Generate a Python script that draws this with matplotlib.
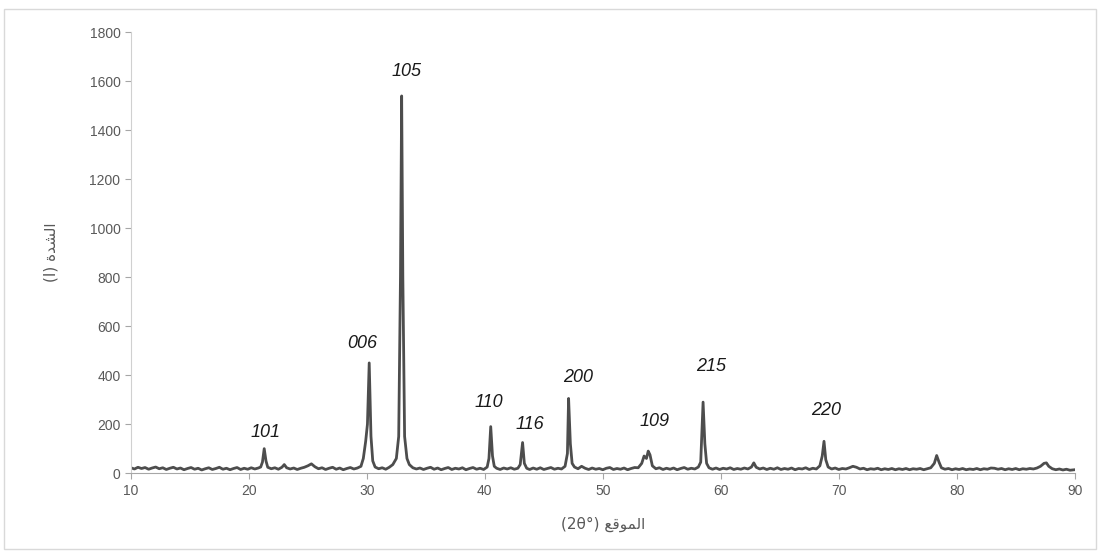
import matplotlib.pyplot as plt
from matplotlib.patches import Rectangle

# XRD pattern
two_theta = [
    10.0, 10.3, 10.6, 10.9, 11.2, 11.5, 11.8, 12.1, 12.4, 12.7, 13.0, 13.3, 13.6, 13.9,
    14.2, 14.5, 14.8, 15.1, 15.4, 15.7, 16.0, 16.3, 16.6, 16.9, 17.2, 17.5, 17.8, 18.1,
    18.4, 18.7, 19.0, 19.3, 19.6, 19.9, 20.2, 20.5, 20.8, 21.0, 21.15, 21.3, 21.45, 21.6,
    21.9, 22.2, 22.5, 22.8, 23.0, 23.2, 23.5, 23.8, 24.1, 24.4, 24.7, 25.0, 25.3, 25.6,
    25.9, 26.2, 26.5, 26.8, 27.1, 27.4, 27.7, 28.0, 28.3, 28.6, 28.9, 29.2, 29.5, 29.7,
    29.9, 30.05, 30.2, 30.35, 30.5, 30.7, 31.0, 31.3, 31.6, 31.9, 32.2, 32.5, 32.7, 32.85,
    32.95, 33.05, 33.2, 33.4, 33.6, 33.9, 34.2, 34.5, 34.8, 35.1, 35.4, 35.7, 36.0, 36.3,
    36.6, 36.9, 37.2, 37.5, 37.8, 38.1, 38.4, 38.7, 39.0, 39.3, 39.6, 39.9, 40.2, 40.35,
    40.5, 40.65, 40.8, 41.0, 41.3, 41.6, 41.9, 42.2, 42.5, 42.8, 43.0, 43.2, 43.35, 43.55,
    43.8, 44.1, 44.4, 44.7, 45.0, 45.3, 45.6, 45.9, 46.2, 46.5, 46.8, 47.0, 47.1, 47.25,
    47.4, 47.6, 47.9, 48.2, 48.5, 48.8, 49.1, 49.4, 49.7, 50.0, 50.3, 50.6, 50.9, 51.2,
    51.5, 51.8, 52.1, 52.4, 52.7, 53.0, 53.3, 53.5, 53.7, 53.85, 54.0, 54.2, 54.5, 54.8,
    55.1, 55.4, 55.7, 56.0, 56.3, 56.6, 56.9, 57.2, 57.5, 57.8, 58.1, 58.3, 58.5, 58.65,
    58.8, 59.0, 59.3, 59.6, 59.9, 60.2, 60.5, 60.8, 61.1, 61.4, 61.7, 62.0, 62.3, 62.6,
    62.8, 63.0, 63.3, 63.6, 63.9, 64.2, 64.5, 64.8, 65.1, 65.4, 65.7, 66.0, 66.3, 66.6,
    66.9, 67.2, 67.5, 67.8, 68.1, 68.4, 68.6, 68.75, 68.9, 69.1, 69.4, 69.7, 70.0, 70.3,
    70.6, 70.9, 71.2, 71.5, 71.8, 72.1, 72.4, 72.7, 73.0, 73.3, 73.6, 73.9, 74.2, 74.5,
    74.8, 75.1, 75.4, 75.7, 76.0, 76.3, 76.6, 76.9, 77.2, 77.5, 77.8, 78.1, 78.3, 78.5,
    78.7, 79.0, 79.3, 79.6, 79.9, 80.2, 80.5, 80.8, 81.1, 81.4, 81.7, 82.0, 82.3, 82.6,
    82.9, 83.2, 83.5, 83.8, 84.1, 84.4, 84.7, 85.0, 85.3, 85.6, 85.9, 86.2, 86.5, 86.8,
    87.1, 87.4, 87.6, 87.8, 88.1, 88.4, 88.7, 89.0, 89.3, 89.6, 90.0,
]
intensity = [
    22, 17, 24, 19, 23, 16, 21, 25, 18, 22, 15, 20, 24, 17,
    21, 14, 19, 23, 16, 20, 13, 18, 22, 15, 19, 24, 16, 20,
    14, 19, 23, 15, 20, 16, 22, 17, 21, 25, 45, 100, 50, 24,
    18, 22, 16, 24, 35, 22, 17, 21, 15, 20, 24, 30, 38, 26,
    18, 22, 15, 20, 24, 16, 21, 14, 19, 23, 17, 21, 28, 60,
    130, 200, 450, 150, 50, 25, 18, 22, 16, 24, 35, 60, 150, 800,
    1540, 800, 150, 60, 35, 22, 17, 21, 15, 20, 24, 16, 21, 14,
    19, 23, 15, 20, 17, 22, 14, 19, 23, 16, 20, 15, 25, 60,
    190, 70, 28, 20, 15, 21, 17, 22, 16, 20, 35, 125, 40, 20,
    15, 21, 16, 22, 15, 19, 23, 16, 20, 17, 28, 80, 305, 120,
    40, 25, 18, 28, 20, 15, 21, 16, 19, 14, 20, 23, 15, 19,
    16, 21, 14, 19, 23, 22, 40, 70, 60, 90, 75, 30, 18, 22,
    15, 20, 16, 21, 14, 19, 23, 16, 20, 17, 25, 45, 290, 120,
    40, 22, 16, 21, 15, 20, 17, 22, 15, 19, 16, 21, 17, 25,
    42, 24, 17, 21, 15, 20, 16, 22, 15, 19, 16, 21, 14, 19,
    17, 22, 15, 20, 17, 30, 70, 130, 55, 25, 17, 21, 15, 19,
    17, 22, 28, 24, 17, 20, 14, 18, 16, 20, 14, 18, 15, 19,
    14, 18, 15, 19, 14, 18, 16, 19, 14, 18, 22, 40, 72, 45,
    22, 16, 19, 14, 18, 15, 19, 14, 17, 15, 19, 14, 18, 16,
    21, 20, 16, 19, 14, 18, 15, 19, 14, 18, 16, 19, 17, 21,
    28, 40, 42, 28, 18, 14, 17, 13, 16, 12, 14,
]

peak_labels = ['101', '006', '105', '110', '116', '200', '109', '215', '220']
label_x = [21.4, 29.6, 33.4, 40.3, 43.8, 47.9, 54.4, 59.2, 68.9]
label_y = [165, 530, 1640, 290, 200, 390, 210, 435, 255]

# Arabic labels, pre-shaped (presentation forms) in visual order
x_label = '(2θ°) ' + '\uFECA\uFED7\uFEEE\uFEE4\uFEDF\uFE8D'
y_label = '(I) ' + '\uFE93\uFEAA\uFEB8\uFEDF\uFE8D'

fams = ['Liberation Sans', 'DejaVu Sans']
grey = '#595959'

fig = plt.figure(figsize=(11, 5.56), dpi=100)
ax = fig.add_axes([0.119, 0.149, 0.858, 0.793])

ax.plot(two_theta, intensity, color='#4d4d4d', linewidth=2.0)

for lab, lx, ly in zip(peak_labels, label_x, label_y):
    ax.text(lx, ly, lab, ha='center', va='center', fontsize=13,
            style='italic', family=fams, color='#1a1a1a')

ax.set_xlim(10, 90)
ax.set_ylim(0, 1800)
ax.set_xticks(range(10, 91, 10))
ax.set_yticks(range(0, 1801, 200))

for s in ['top', 'right']:
    ax.spines[s].set_visible(False)
ax.spines['left'].set_color('#d0d0d0')
ax.spines['bottom'].set_color('#a6a6a6')
ax.tick_params(axis='both', colors='#a6a6a6', labelcolor=grey,
               labelsize=10, length=4)
for t in ax.get_xticklabels() + ax.get_yticklabels():
    t.set_family(fams)

ax.set_xlabel(x_label, family=['DejaVu Sans'], fontsize=11, color=grey, labelpad=14)
ax.set_ylabel(y_label, family=['DejaVu Sans'], fontsize=11, color=grey, labelpad=22)

fig.patches.append(Rectangle((0.004, 0.012), 0.992, 0.972, transform=fig.transFigure,
                             fill=False, edgecolor='#d9d9d9', linewidth=1))

fig.savefig('out.png', dpi=100)
